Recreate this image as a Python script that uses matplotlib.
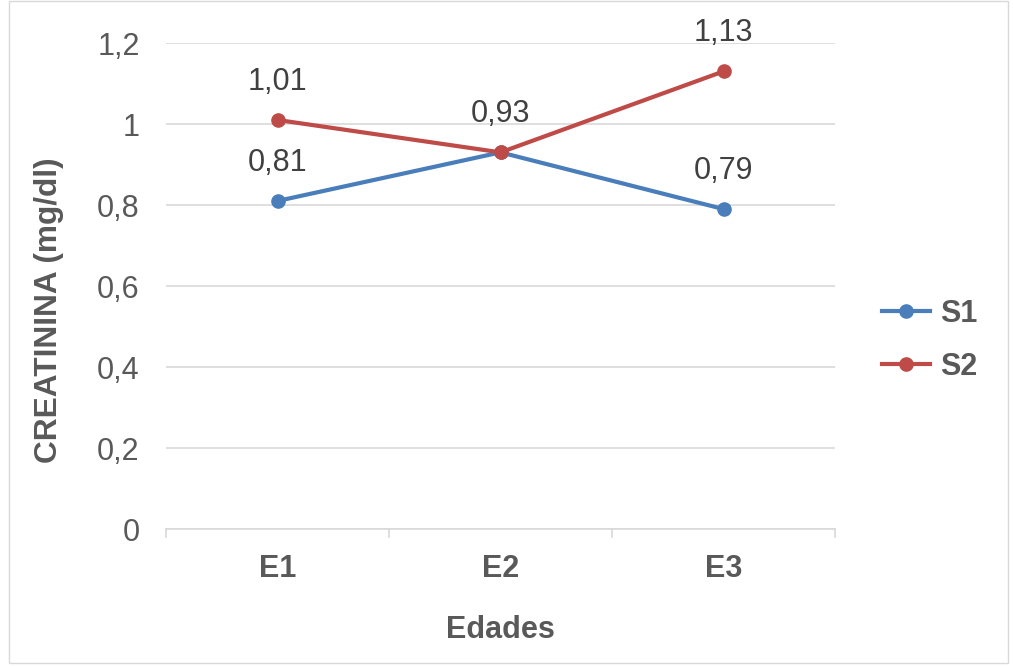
import matplotlib
matplotlib.use("Agg")
import matplotlib.pyplot as plt
from matplotlib.lines import Line2D
from matplotlib.patches import Rectangle

categories = ["E1", "E2", "E3"]
s1 = [0.81, 0.93, 0.79]
s2 = [1.01, 0.93, 1.13]
series_names = ["S1", "S2"]
yticks = [0, 0.2, 0.4, 0.6, 0.8, 1.0, 1.2]

plt.rcParams["font.family"] = ["Liberation Sans", "DejaVu Sans"]
txt = "#595959"
lbl = "#404040"
c1 = "#4a7ebb"
c2 = "#be4b48"
fs = 22

fig = plt.figure(figsize=(10.13, 6.66), dpi=100)
ax = fig.add_axes([0.1639, 0.2057, 0.6604, 0.7297])

x = list(range(len(categories)))
for vals, col, name in [(s1, c1, series_names[0]), (s2, c2, series_names[1])]:
    ax.plot(x, vals, color=col, lw=3, marker="o", ms=9.5, label=name,
            solid_capstyle="round", zorder=3)

# value labels above each point (S1 at E2 shares the S2 label)
for i, v in enumerate(s1):
    if i == 1:
        continue
    ax.annotate(f"{v:.2f}".replace(".", ","), (i, v), xytext=(0, 27.5),
                textcoords="offset points", ha="center", va="center",
                fontsize=fs, color=lbl)
for i, v in enumerate(s2):
    ax.annotate(f"{v:.2f}".replace(".", ","), (i, v), xytext=(0, 27.5),
                textcoords="offset points", ha="center", va="center",
                fontsize=fs, color=lbl)

ax.set_xlim(-0.5, 2.5)
ax.set_ylim(0, 1.2)
ax.set_yticks(yticks)
ax.set_yticklabels([f"{t:g}".replace(".", ",") for t in yticks],
                   fontsize=fs, color=txt)
ax.set_xticks(x)
ax.set_xticklabels(categories, fontsize=fs, fontweight="bold", color=txt)
ax.tick_params(axis="y", length=0, pad=19)
ax.tick_params(axis="x", length=0, pad=18)

# category boundary ticks
for b in [-0.5, 0.5, 1.5, 2.5]:
    ax.plot([b, b], [0, -0.02], color="#d9d9d9", lw=1.2, clip_on=False)

ax.grid(axis="y", color="#d9d9d9", lw=1.2)
ax.set_axisbelow(True)
for side in ["top", "right", "left"]:
    ax.spines[side].set_visible(False)
ax.spines["bottom"].set_color("#d9d9d9")
ax.spines["bottom"].set_linewidth(1.2)

ax.set_xlabel("Edades", fontsize=fs, fontweight="bold", color=txt, labelpad=22)
ax.set_ylabel("CREATININA (mg/dl)", fontsize=22.8, fontweight="bold",
              color=txt)
ax.yaxis.set_label_coords(-0.152, 0.45)

handles = [Line2D([0], [0], color=c1, lw=3, marker="o", ms=9.5),
           Line2D([0], [0], color=c2, lw=3, marker="o", ms=9.5)]
leg = fig.legend(handles, series_names, loc="center left",
                 bbox_to_anchor=(0.8707, 0.4887), frameon=False, borderpad=0,
                 borderaxespad=0,
                 prop={"size": fs, "weight": "bold"}, handlelength=1.57,
                 handletextpad=0.33, labelspacing=0.75, labelcolor=txt)

fig.add_artist(Rectangle((0.009, 0.005), 0.986, 0.993, transform=fig.transFigure,
                         fill=False, ec="#d9d9d9", lw=1))

fig.savefig("out.png", dpi=100)
